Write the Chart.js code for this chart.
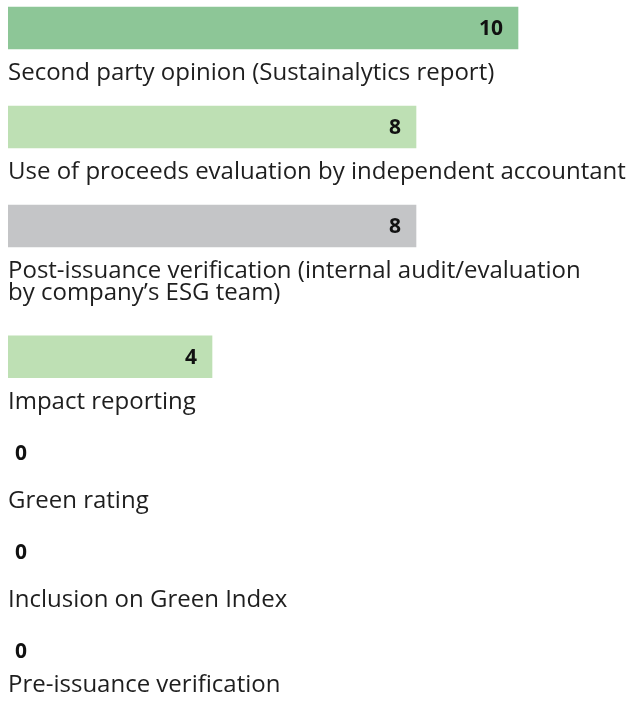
<!DOCTYPE html>
<html>
<head>
<meta charset="utf-8">
<script src="https://cdn.jsdelivr.net/npm/chart.js@4/dist/chart.umd.min.js"></script>
<style>
  html, body { margin: 0; padding: 0; background: #ffffff; }
  #wrap { width: 634px; height: 707px; }
</style>
</head>
<body>
<div id="wrap"><canvas id="chart" width="634" height="707"></canvas></div>
<script>
// Verification methods and how many issuers used each one
const categories = [
  ['Second party opinion (Sustainalytics report)'],
  ['Use of proceeds evaluation by independent accountant'],
  ['Post-issuance verification (internal audit/evaluation', 'by company\u2019s ESG team)'],
  ['Impact reporting'],
  ['Green rating'],
  ['Inclusion on Green Index'],
  ['Pre-issuance verification']
];
const counts = [10, 8, 8, 4, 0, 0, 0];
const barColors = ['#8dc697', '#bee0b4', '#c4c5c7', '#bee0b4', '#bee0b4', '#bee0b4', '#bee0b4'];

// Each row is one unit tall; every extra label line pushes the rows below down a little.
const EXTRA_LINE = 0.32;
const rowPos = [];
let cursor = 0;
categories.forEach((lines) => {
  rowPos.push(cursor);
  cursor += 1 + EXTRA_LINE * (lines.length - 1);
});

const TEXT_FONT = '"Open Sans", "Liberation Sans", sans-serif';

// Category names under each bar and the count beside the bar end
const rowLabels = {
  id: 'rowLabels',
  afterDatasetsDraw(chart) {
    const ctx = chart.ctx;
    const meta = chart.getDatasetMeta(0);
    const left = chart.chartArea.left;
    const lastBaseline = chart.height - 15;
    ctx.save();
    meta.data.forEach((bar, i) => {
      const half = bar.height / 2;
      const lines = categories[i];
      // category label, kept inside the canvas
      let baseline = bar.y + half + 31;
      baseline = Math.min(baseline, lastBaseline - (lines.length - 1) * 22);
      ctx.font = '24px ' + TEXT_FONT;
      ctx.fillStyle = '#1e1e1e';
      ctx.textAlign = 'left';
      ctx.textBaseline = 'alphabetic';
      lines.forEach((line, j) => {
        ctx.fillText(line, left, baseline + j * 22);
      });
      // value label
      ctx.font = 'bold 21px ' + TEXT_FONT;
      ctx.fillStyle = '#111111';
      ctx.textBaseline = 'middle';
      if (counts[i] > 0) {
        ctx.textAlign = 'right';
        ctx.fillText(String(counts[i]), bar.x - 15, bar.y + 1);
      } else {
        ctx.textAlign = 'left';
        ctx.fillText(String(counts[i]), bar.base + 7, bar.y - 2);
      }
    });
    ctx.restore();
  }
};

new Chart(document.getElementById('chart'), {
  type: 'bar',
  data: {
    datasets: [{
      data: counts.map((v, i) => ({ x: v, y: rowPos[i] })),
      backgroundColor: (c) => (counts[c.dataIndex] > 0 ? barColors[c.dataIndex] : 'rgba(0,0,0,0)'),
      borderWidth: 0,
      barThickness: 42
    }]
  },
  options: {
    indexAxis: 'y',
    responsive: false,
    animation: false,
    layout: { padding: { left: 8, right: 14, top: 0, bottom: 0 } },
    plugins: { legend: { display: false }, tooltip: { enabled: false } },
    scales: {
      x: { type: 'linear', min: 0, max: 12, display: false },
      y: { type: 'linear', reverse: true, offset: false, min: -0.283, max: 6.858, display: false }
    }
  },
  plugins: [rowLabels]
});
</script>
</body>
</html>
